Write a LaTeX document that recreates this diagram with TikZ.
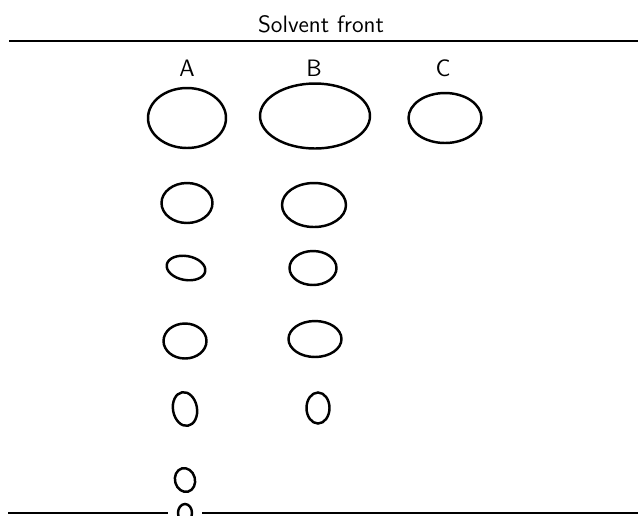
\documentclass[tikz,border=0pt]{standalone}
\usepackage{tikz}
\usetikzlibrary{shapes.geometric}
\tikzset{
  spot/.style={draw, ellipse, line width=1.4pt, inner sep=0pt, outer sep=0pt},
  lane/.style={font=\sffamily\fontsize{13.5}{16}\selectfont},
  front/.style={line width=1pt},
}
\begin{document}
\begin{tikzpicture}[x=0.02cm, y=-0.02cm]
\useasboundingbox (0,0) rectangle (638,515);
\node[lane] (title) at (321,24) {Solvent front};
\coordinate (fl) at (9,41); \coordinate (fr) at (638,41);
\draw[front] (fl) -- (fr);
\foreach \n/\x in {A/187,B/314,C/443}{\node[lane] (lab\n) at (\x,68) {\n};}
% spots: name/x/y/width/height/tilt
\foreach \n/\x/\y/\w/\h/\r in {a1/187/118/78/60/0, b1/315/116/110/65/0, c1/445/118/73/50/0,
  a2/187/203/51/40/0, b2/314/205/64/44/0, a3/186/268/39/24/-10, b3/313/268/47/34/0,
  a4/185/341/43/35/0, b4/315/339/53/36/0, a5/185/409/24/34/10, b5/318/408/23/31/0,
  a6/185/480/20/24/15, a7/185/513/14/18/0}{
  \node[spot, minimum width=\w*0.2mm, minimum height=\h*0.2mm, rotate=\r] (\n) at (\x,\y) {};}
\coordinate (ol) at (8,513); \coordinate (og1) at (168,513);
\coordinate (og2) at (202,513); \coordinate (or) at (638,513);
\draw[front] (ol) -- (og1) (og2) -- (or);
\end{tikzpicture}
\end{document}
